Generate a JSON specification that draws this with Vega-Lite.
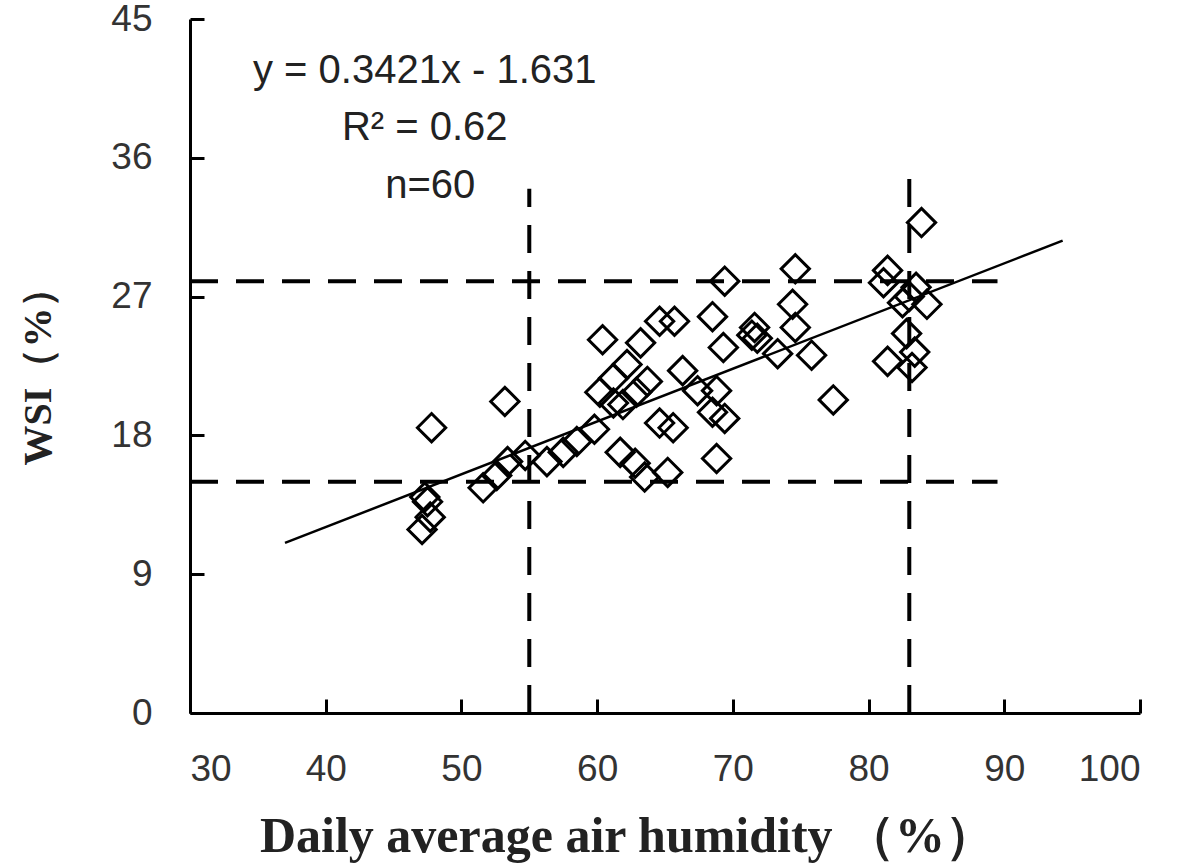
{
  "$schema": "https://vega.github.io/schema/vega-lite/v6.json",
  "width": 950,
  "height": 694,
  "autosize": {"type": "none"},
  "padding": {"left": 190, "top": 19, "right": 41, "bottom": 155},
  "background": "white",
  "config": {
    "view": {"stroke": null},
    "axis": {
      "grid": false,
      "domainColor": "black",
      "domainWidth": 3,
      "tickColor": "black",
      "tickWidth": 3,
      "tickSize": -14,
      "labelFont": "Liberation Sans",
      "labelFontSize": 37,
      "labelColor": "#333333",
      "titleFont": "Liberation Serif",
      "titleFontWeight": "bold",
      "titleColor": "#222222"
    }
  },
  "datasets": {
    "pts": [
      {"h": 47.1, "w": 11.9}, {"h": 47.7, "w": 12.7}, {"h": 47.5, "w": 13.7}, {"h": 47.3, "w": 14.0},
      {"h": 47.8, "w": 18.5}, {"h": 53.2, "w": 20.2}, {"h": 51.6, "w": 14.6}, {"h": 52.6, "w": 15.4},
      {"h": 53.4, "w": 16.3}, {"h": 54.7, "w": 16.7}, {"h": 56.3, "w": 16.3}, {"h": 57.5, "w": 16.9},
      {"h": 58.5, "w": 17.6}, {"h": 59.8, "w": 18.4}, {"h": 60.2, "w": 20.8}, {"h": 60.4, "w": 24.2},
      {"h": 61.2, "w": 21.7}, {"h": 62.2, "w": 22.6}, {"h": 63.2, "w": 24.0}, {"h": 64.6, "w": 25.4},
      {"h": 65.7, "w": 25.4}, {"h": 63.7, "w": 21.5}, {"h": 62.9, "w": 20.8}, {"h": 61.9, "w": 20.0},
      {"h": 61.2, "w": 20.1}, {"h": 61.7, "w": 16.9}, {"h": 62.8, "w": 16.2}, {"h": 63.5, "w": 15.3},
      {"h": 65.2, "w": 15.6}, {"h": 64.6, "w": 18.8}, {"h": 65.6, "w": 18.5}, {"h": 66.3, "w": 22.2},
      {"h": 67.4, "w": 20.9}, {"h": 68.8, "w": 20.9}, {"h": 68.5, "w": 19.5}, {"h": 69.4, "w": 19.1},
      {"h": 68.8, "w": 16.5}, {"h": 68.5, "w": 25.7}, {"h": 69.4, "w": 28.0}, {"h": 69.3, "w": 23.7},
      {"h": 71.4, "w": 24.5}, {"h": 71.6, "w": 25.0}, {"h": 71.8, "w": 24.3}, {"h": 73.3, "w": 23.3},
      {"h": 74.6, "w": 25.0}, {"h": 74.4, "w": 26.5}, {"h": 74.6, "w": 28.8}, {"h": 75.8, "w": 23.2},
      {"h": 77.4, "w": 20.3}, {"h": 81.4, "w": 28.7}, {"h": 81.1, "w": 27.9}, {"h": 83.5, "w": 27.6},
      {"h": 84.3, "w": 26.5}, {"h": 82.5, "w": 26.6}, {"h": 83.0, "w": 27.0}, {"h": 82.8, "w": 24.6},
      {"h": 83.4, "w": 23.4}, {"h": 81.4, "w": 22.8}, {"h": 83.2, "w": 22.4}, {"h": 83.9, "w": 31.8}
    ],
    "guides": [
      {"x1": 55, "x2": 55, "y1": 0, "y2": 34.0},
      {"x1": 83, "x2": 83, "y1": 0, "y2": 35.7},
      {"x1": 30, "x2": 89.5, "y1": 28, "y2": 28},
      {"x1": 30, "x2": 89.5, "y1": 15, "y2": 15}
    ],
    "fit": [
      {"h": 37.0, "w": 11.03},
      {"h": 94.3, "w": 30.63}
    ],
    "notes": [
      {"h": 47.3, "w": 41.6, "t": "y = 0.3421x - 1.631"},
      {"h": 47.3, "w": 37.9, "t": "R² = 0.62"},
      {"h": 47.7, "w": 34.2, "t": "n=60"}
    ]
  },
  "layer": [
    {
      "data": {"name": "guides"},
      "mark": {"type": "rule", "strokeDash": [28, 18], "strokeWidth": 4, "color": "black"},
      "encoding": {
        "x": {"field": "x1", "type": "quantitative", "scale": {"domain": [30, 100], "nice": false, "zero": false},
          "axis": {"title": "Daily average air humidity  （%）", "values": [30, 40, 50, 60, 70, 80, 90, 100], "labelPadding": 52,
            "titleFontSize": 50, "titleX": 437, "titleY": 138, "titleAlign": "center", "titleBaseline": "alphabetic", "titleAnchor": null}},
        "x2": {"field": "x2"},
        "y": {"field": "y1", "type": "quantitative", "scale": {"domain": [0, 45], "nice": false},
          "axis": {"title": "WSI（%）", "values": [0, 9, 18, 27, 36, 45], "labelPadding": 52, "titlePadding": 52, "titleFontSize": 40}},
        "y2": {"field": "y2"}
      }
    },
    {
      "data": {"name": "fit"},
      "mark": {"type": "line", "color": "black", "strokeWidth": 2.5},
      "encoding": {
        "x": {"field": "h", "type": "quantitative"},
        "y": {"field": "w", "type": "quantitative"}
      }
    },
    {
      "data": {"name": "pts"},
      "mark": {"type": "point", "shape": "diamond", "size": 800, "filled": false, "fill": "white", "fillOpacity": 0, "stroke": "black", "strokeWidth": 3, "opacity": 1},
      "encoding": {
        "x": {"field": "h", "type": "quantitative"},
        "y": {"field": "w", "type": "quantitative"}
      }
    },
    {
      "data": {"name": "notes"},
      "mark": {"type": "text", "font": "Liberation Sans", "fontSize": 40, "color": "#222222", "align": "center", "baseline": "middle"},
      "encoding": {
        "x": {"field": "h", "type": "quantitative"},
        "y": {"field": "w", "type": "quantitative"},
        "text": {"field": "t"}
      }
    }
  ]
}
